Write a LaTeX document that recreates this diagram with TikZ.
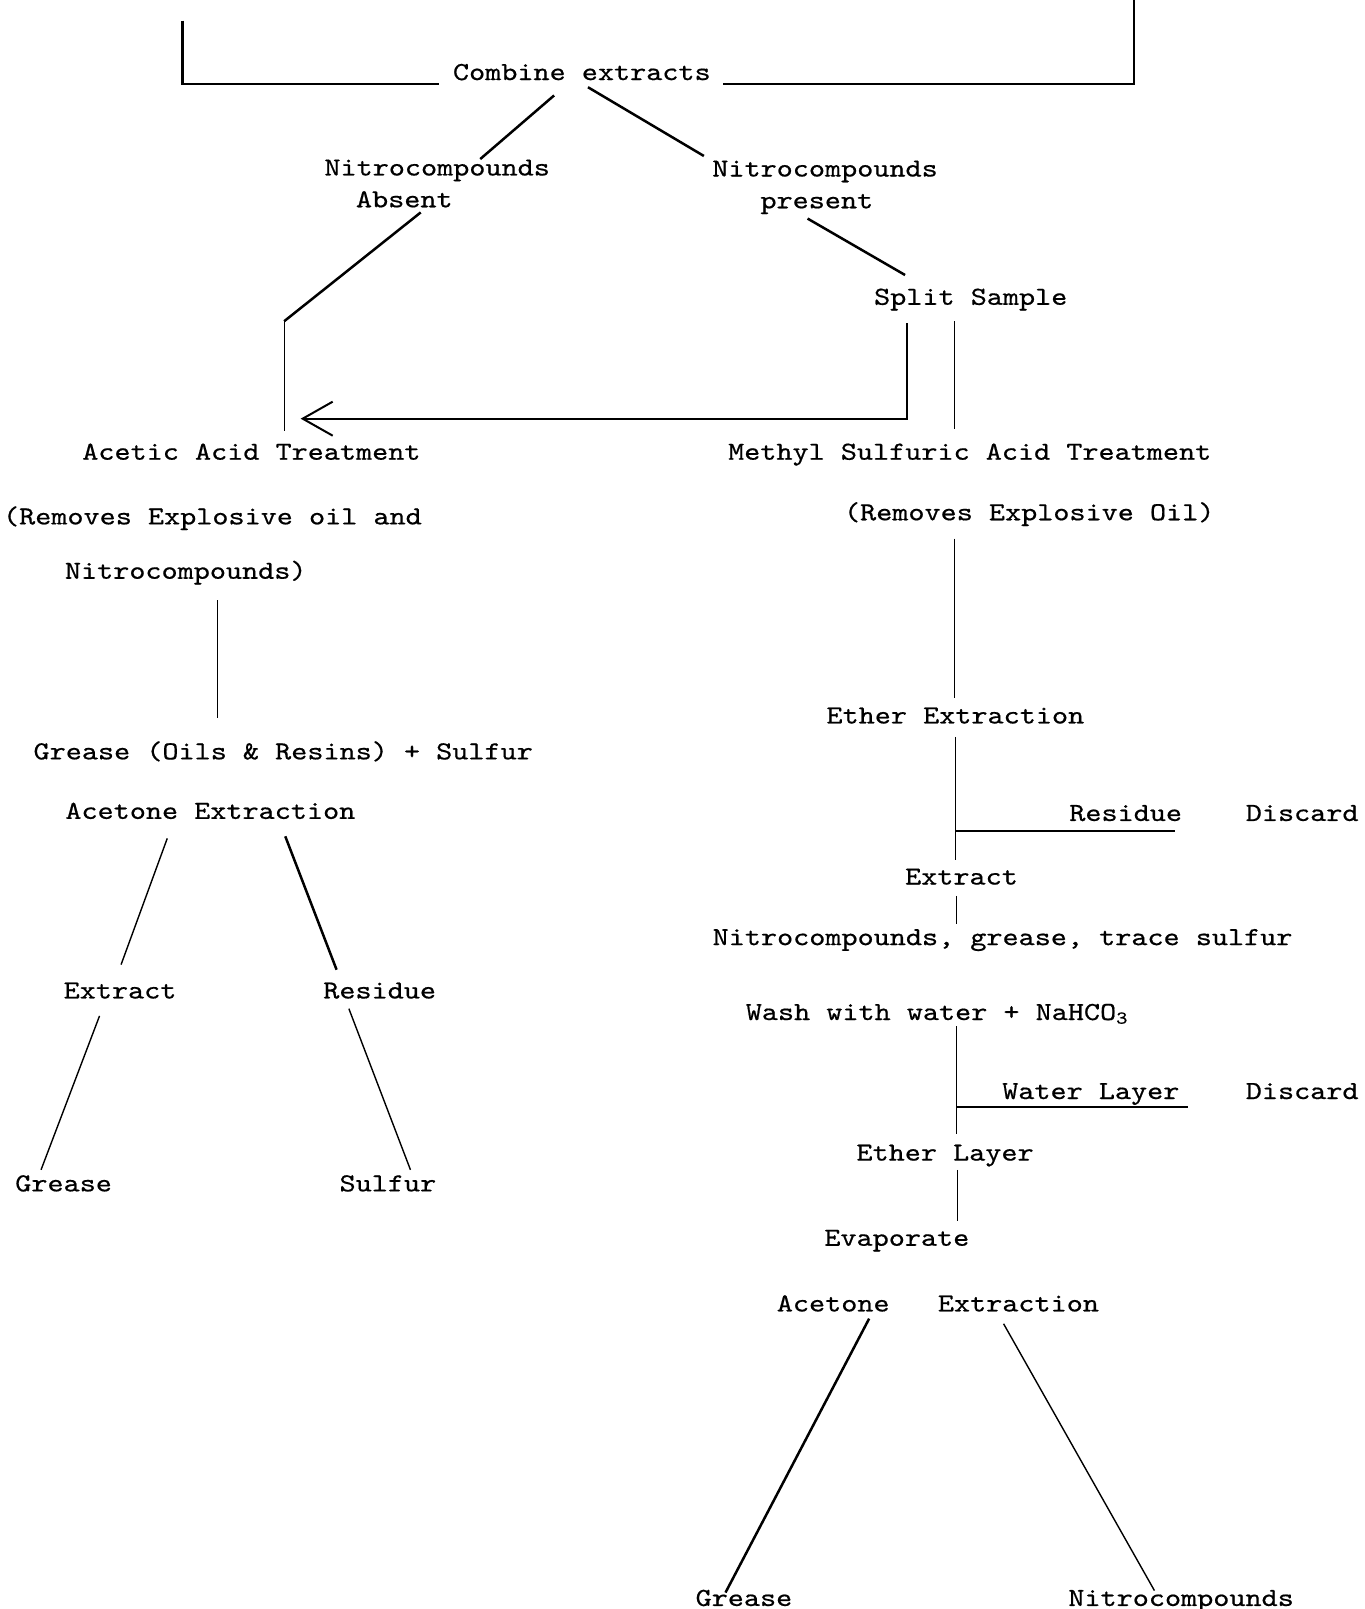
\documentclass[tikz,border=0pt]{standalone}
\usepackage{fontspec}
\usepackage{tikz}
\usetikzlibrary{arrows.meta}
\newfontfamily\typed{lmmono10-regular}[Extension=.otf, FakeStretch=1.18, FakeBold=0.6]

\begin{document}
\begin{tikzpicture}[x=1.0263pt, y=-1.0263pt,
                lbl/.style={inner sep=0pt, anchor=base, font={\typed\fontsize{26}{31}\selectfont}},
                link/.style={line width=2.5pt},
                faint/.style={line width=1.4pt},
                arrow/.style={-{Straight Barb[length=30pt, width=34pt, line width=2pt]}, line width=2.3pt}
            ]
                \useasboundingbox (0,0) rectangle (1330,1568);

                % Nodes
                \node (combine) [lbl] at (567,78) {Combine extracts};
                \node (nitroA) [lbl] at (426,171) {Nitrocompounds};
                \node (absent) [lbl] at (394,202) {Absent};
                \node (nitroP) [lbl] at (804,172) {Nitrocompounds};
                \node (present) [lbl] at (796,203) {present};
                \node (split) [lbl] at (946,297) {Split Sample};
                \node (acetic) [lbl] at (245,448) {Acetic Acid Treatment};
                \node (methyl) [lbl] at (945,448) {Methyl Sulfuric Acid Treatment};
                \node (removesA) [lbl] at (207,511) {(Removes Explosive oil and};
                \node (removesB) [lbl] at (181,564) {Nitrocompounds)};
                \node (removesM) [lbl] at (1003,507) {(Removes Explosive Oil)};
                \node (greaseSulfur) [lbl] at (276,740) {Grease (Oils \& Resins) + Sulfur};
                \node (acetoneL) [lbl] at (205,798) {Acetone Extraction};
                \node (extractL) [lbl] at (117,973) {Extract};
                \node (residueL) [lbl] at (370,973) {Residue};
                \node (greaseL) [lbl] at (62,1161) {Grease};
                \node (sulfurL) [lbl] at (378,1161) {Sulfur};
                \node (ether) [lbl] at (931,705) {Ether Extraction};
                \node (residueR) [lbl] at (1097,800) {Residue};
                \node (discardA) [lbl] at (1269,800) {Discard};
                \node (extractR) [lbl] at (937,862) {Extract};
                \node (mixture) [lbl] at (977,921) {Nitrocompounds, grease, trace sulfur};
                \node (wash) [lbl] at (913,994) {Wash with water + NaHCO\textsubscript{3}};
                \node (water) [lbl] at (1063,1071) {Water Layer};
                \node (discardB) [lbl] at (1269,1071) {Discard};
                \node (etherL) [lbl] at (921,1131) {Ether Layer};
                \node (evap) [lbl] at (874,1214) {Evaporate};
                \node (acetoneR) [lbl] at (914,1278) {Acetone~~~Extraction};
                \node (greaseR) [lbl] at (725,1565) {Grease};
                \node (nitroR) [lbl] at (1151,1565) {Nitrocompounds};
                \coordinate (topL) at (178,20);
                \coordinate (topR) at (1105,0);

                % Lines
                \draw [link] (topL) |- ([shift={(-13,4)}]combine.base west);
                \draw [link] (topR) |- ([shift={(12,4)}]combine.base east);
                \draw [link] ([shift={(-27,15)}]combine.base) -- ([shift={(42,-16)}]nitroA.base);
                \draw [link] ([shift={(6,7)}]combine.base) -- ([shift={(-8,-20)}]nitroP.base west);
                \draw [link] ([shift={(16,5)}]absent.base) -- ([shift={(32,-135)}]acetic.base);
                \draw [faint] ([shift={(32,-135)}]acetic.base) -- ([shift={(32,-28)}]acetic.base);
                \draw [link] ([shift={(-64,-29)}]split.base) -- ([shift={(-9,10)}]present.base);
                \draw [arrow] ([shift={(-62,18)}]split.base) |- ([shift={(48,-40)}]acetic.base);
                \draw [faint] ([shift={(-16,16)}]split.base) -- ([shift={(-15,-30)}]methyl.base);
                \draw [faint] ([shift={(31,21)}]removesB.base) -- ([shift={(-64,-40)}]greaseSulfur.base);
                \draw [faint] ([shift={(-42,19)}]acetoneL.base) -- ([shift={(1,-33)}]extractL.base);
                \draw [link] ([shift={(73,17)}]acetoneL.base) -- ([shift={(-42,-28)}]residueL.base);
                \draw [faint] ([shift={(-20,17)}]extractL.base) -- ([shift={(-22,-21)}]greaseL.base);
                \draw [faint] ([shift={(-30,10)}]residueL.base) -- ([shift={(22,-21)}]sulfurL.base);
                \draw [faint] ([shift={(-73,18)}]removesM.base) -- ([shift={(-1,-25)}]ether.base);
                \draw [faint] ([shift={(0,13)}]ether.base) -- ([shift={(-6,-24)}]extractR.base);
                \draw [link] ([shift={(0,105)}]ether.base) -- ([shift={(48,10)}]residueR.base);
                \draw [faint] ([shift={(-5,11)}]extractR.base) -- ([shift={(-45,-21)}]mixture.base);
                \draw [faint] ([shift={(19,6)}]wash.base) -- ([shift={(11,-26)}]etherL.base);
                \draw [link] ([shift={(19,85)}]wash.base) -- ([shift={(95,8)}]water.base);
                \draw [faint] ([shift={(12,9)}]etherL.base) -- ([shift={(59,-24)}]evap.base);
                \draw [link] ([shift={(-67,7)}]acetoneR.base) -- ([shift={(-18,-13)}]greaseR.base);
                \draw [faint] ([shift={(64,12)}]acetoneR.base) -- ([shift={(-26,-15)}]nitroR.base);
            \end{tikzpicture}
\end{document}
